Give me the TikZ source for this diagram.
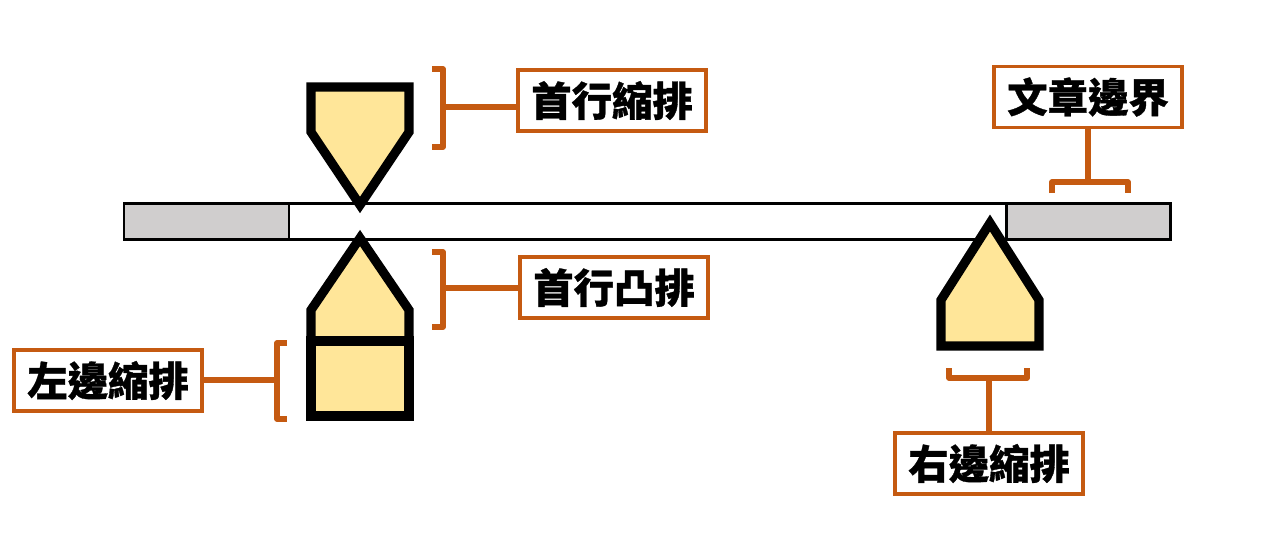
\documentclass[tikz,border=0pt]{standalone}
\usepackage{fontspec}
\newfontfamily\cjk{Noto Sans CJK TC}[BoldFeatures={FakeBold=0.8}]
\definecolor{rulerorange}{HTML}{C55A11}
\definecolor{markeryellow}{HTML}{FFE699}
\definecolor{margingray}{HTML}{D0CECE}
\newcommand{\rulerbar}{(124,203) rectangle (1170,239)}

\begin{document}
\begin{tikzpicture}[x=0.02cm, y=-0.02cm,
  labelbox/.style={draw=rulerorange, line width=2pt, fill=white, inner sep=0pt,
    minimum width=3.76cm, minimum height=1.22cm,
    font=\cjk\bfseries\fontsize{23}{23}\selectfont},
  marker/.style={draw=black, fill=markeryellow, line width=5.2pt, line join=miter},
  bracket/.style={draw=rulerorange, line width=3.1pt, line join=round}]

  \useasboundingbox (0,0) rectangle (1280,535);

  % ruler with the two page margins
  \fill[white] \rulerbar;
  \fill[margingray] (124,203) rectangle (289,239);
  \fill[margingray] (1006,203) rectangle (1170,239);
  \draw[line width=1.7pt] (289,203) -- (289,239);
  \draw[line width=1.7pt] (1006,203) -- (1006,239);
  \draw[line width=1.7pt] \rulerbar;

  % indent markers
  \draw[marker] (311,87) -- (409,87) -- (409,132) -- (360,205) -- (311,132) -- cycle;
  \draw[marker] (360,238) -- (409,310) -- (409,341) -- (311,341) -- (311,310) -- cycle;
  \draw[marker] (311,341) rectangle (409,416);
  \draw[marker] (990,223) -- (1039,300) -- (1039,346) -- (941,346) -- (941,300) -- cycle;

  % labels
  \node[labelbox] (firstline) at (612,100.5) {首行縮排};
  \node[labelbox] (hanging) at (614,287.5) {首行凸排};
  \node[labelbox] (leftind) at (108,380.5) {左邊縮排};
  \node[labelbox] (rightind) at (989,463.5) {右邊縮排};
  \node[labelbox] (border) at (1088,97) {文章邊界};

  % brackets
  \draw[bracket] (432,69) -- (443,69) -- (443,147) -- (432,147);
  \coordinate (brkfirst) at (443,107);
  \draw[bracket] (432,252) -- (443,252) -- (443,327) -- (432,327);
  \coordinate (brkhang) at (443,288);
  \draw[bracket] (287,343) -- (277,343) -- (277,419) -- (287,419);
  \coordinate (brkleft) at (277,380);
  \draw[bracket] (949,368) -- (949,378) -- (1027,378) -- (1027,368);
  \coordinate (brkright) at (989,378);
  \draw[bracket] (1052,193) -- (1052,182) -- (1128,182) -- (1128,193);
  \coordinate (brkborder) at (1088,182);

  \draw[bracket] (brkfirst) -- (brkfirst -| firstline.west);
  \draw[bracket] (brkhang) -- (brkhang -| hanging.west);
  \draw[bracket] (brkleft) -- (brkleft -| leftind.east);
  \draw[bracket] (brkright) -- (brkright |- rightind.north);
  \draw[bracket] (brkborder) -- (brkborder |- border.south);

\end{tikzpicture}
\end{document}
